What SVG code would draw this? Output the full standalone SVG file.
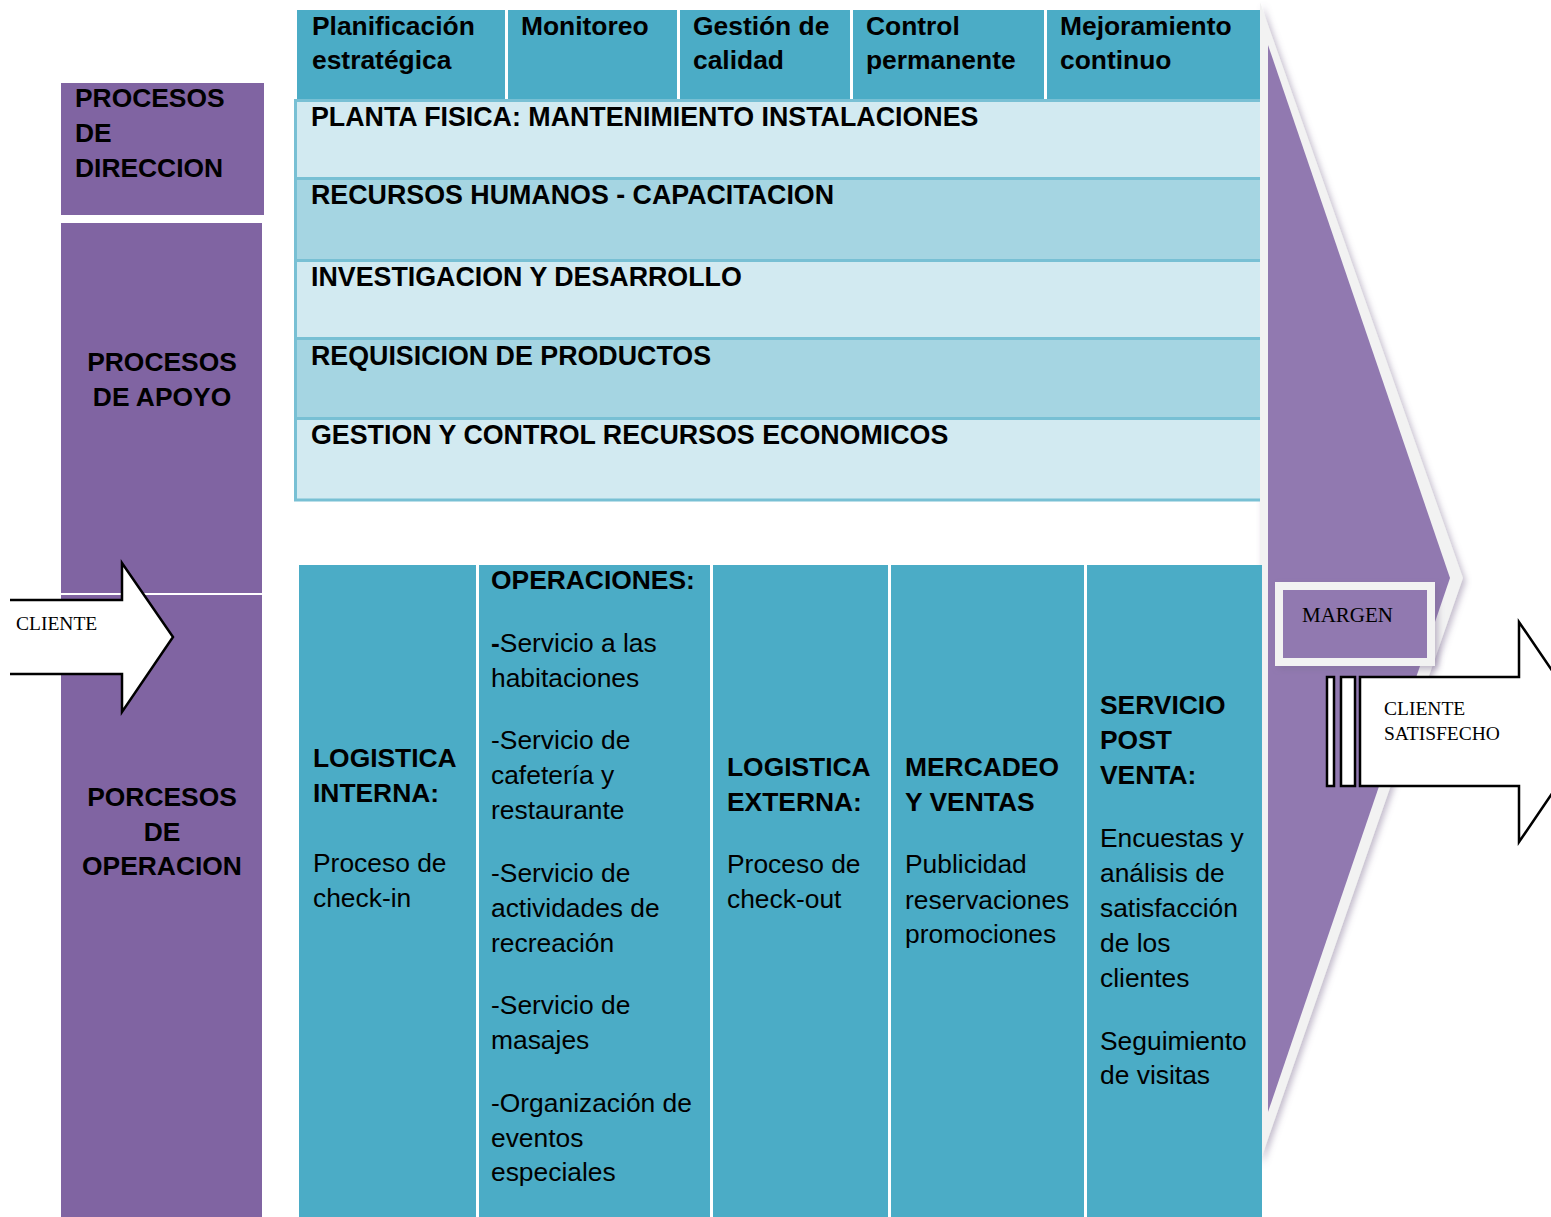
<svg xmlns="http://www.w3.org/2000/svg" width="1551" height="1217" viewBox="0 0 1551 1217">
<defs>
<filter id="sh" x="-10%" y="-5%" width="130%" height="115%">
<feDropShadow dx="3" dy="3" stdDeviation="3" flood-color="#7a6a8f" flood-opacity="0.45"/>
</filter>
</defs>
<style>
text{font-family:"Liberation Sans",Arial,sans-serif;font-size:26.4px;fill:#000}
.b{font-weight:bold}
.rw{font-size:26.8px}
.sr{font-family:"Liberation Serif","Times New Roman",serif;font-size:19.5px}
.dp{fill:#8064a2}
.lp{fill:#9179b0}
.tl{fill:#4bacc6}
.l1{fill:#d2eaf1}
.l2{fill:#a5d5e2}
.ln{stroke:#78c0d4;stroke-width:3;fill:none}
.arr{fill:#fff;stroke:#000;stroke-width:2.5}
</style>
<rect width="1551" height="1217" fill="#fff"/>

<g id="margen-triangle">
<polygon points="1260,2 1463,578 1260,1162" fill="#f2f2f2" filter="url(#sh)"/>
<polygon class="lp" points="1268,45 1450,578 1268,1112"/>
</g>

<g id="procesos-direccion">
<rect class="dp" x="61" y="83" width="203" height="132"/>
<text class="b" x="75" y="107">PROCESOS</text>
<text class="b" x="75" y="142">DE</text>
<text class="b" x="75" y="177">DIRECCION</text>
</g>

<g id="procesos-apoyo">
<rect class="dp" x="61" y="223" width="201" height="370"/>
<text class="b" x="162" y="371" text-anchor="middle">PROCESOS</text>
<text class="b" x="162" y="406" text-anchor="middle">DE APOYO</text>
</g>

<g id="procesos-operacion">
<rect class="dp" x="61" y="595" width="201" height="622"/>
<text class="b" x="162" y="806" text-anchor="middle">PORCESOS</text>
<text class="b" x="162" y="841" text-anchor="middle">DE</text>
<text class="b" x="162" y="875" text-anchor="middle">OPERACION</text>
</g>

<g id="header">
<rect class="tl" x="297" y="10" width="208" height="89"/>
<rect class="tl" x="508" y="10" width="169" height="89"/>
<rect class="tl" x="680" y="10" width="170" height="89"/>
<rect class="tl" x="853" y="10" width="191" height="89"/>
<rect class="tl" x="1047" y="10" width="213" height="89"/>
<text class="b" x="312" y="35">Planificación</text>
<text class="b" x="312" y="69">estratégica</text>
<text class="b" x="521" y="35">Monitoreo</text>
<text class="b" x="693" y="35">Gestión de</text>
<text class="b" x="693" y="69">calidad</text>
<text class="b" x="866" y="35">Control</text>
<text class="b" x="866" y="69">permanente</text>
<text class="b" x="1060" y="35">Mejoramiento</text>
<text class="b" x="1060" y="69">continuo</text>
</g>

<g id="apoyo-rows">
<rect class="l1" x="295" y="100" width="965" height="79"/>
<rect class="l2" x="295" y="179" width="965" height="82"/>
<rect class="l1" x="295" y="261" width="965" height="78"/>
<rect class="l2" x="295" y="339" width="965" height="80"/>
<rect class="l1" x="295" y="419" width="965" height="82"/>
<path class="ln" d="M295.5,100.5 H1260 M295.5,178.5 H1260 M295.5,260.5 H1260 M295.5,338.5 H1260 M295.5,418.5 H1260 M295.5,500 H1260 M295.5,99 V501.5"/>
<text class="b rw" x="311" y="126">PLANTA FISICA: MANTENIMIENTO INSTALACIONES</text>
<text class="b rw" x="311" y="204">RECURSOS HUMANOS - CAPACITACION</text>
<text class="b rw" x="311" y="286">INVESTIGACION Y DESARROLLO</text>
<text class="b rw" x="311" y="365">REQUISICION DE PRODUCTOS</text>
<text class="b rw" x="311" y="444">GESTION Y CONTROL RECURSOS ECONOMICOS</text>
</g>

<g id="logistica-interna">
<rect class="tl" x="299" y="565" width="177" height="652"/>
<text class="b" x="313" y="767">LOGISTICA</text>
<text class="b" x="313" y="802">INTERNA:</text>
<text x="313" y="872">Proceso de</text>
<text x="313" y="907">check-in</text>
</g>

<g id="operaciones">
<rect class="tl" x="479" y="565" width="231" height="652"/>
<text class="b" x="491" y="589">OPERACIONES:</text>
<text x="491" y="652"><tspan class="b">-</tspan>Servicio a las</text>
<text x="491" y="687">habitaciones</text>
<text x="491" y="749">-Servicio de</text>
<text x="491" y="784">cafetería y</text>
<text x="491" y="819">restaurante</text>
<text x="491" y="882">-Servicio de</text>
<text x="491" y="917">actividades de</text>
<text x="491" y="952">recreación</text>
<text x="491" y="1014">-Servicio de</text>
<text x="491" y="1049">masajes</text>
<text x="491" y="1112">-Organización de</text>
<text x="491" y="1147">eventos</text>
<text x="491" y="1181">especiales</text>
</g>

<g id="logistica-externa">
<rect class="tl" x="713" y="565" width="175" height="652"/>
<text class="b" x="727" y="776">LOGISTICA</text>
<text class="b" x="727" y="811">EXTERNA:</text>
<text x="727" y="873">Proceso de</text>
<text x="727" y="908">check-out</text>
</g>

<g id="mercadeo-ventas">
<rect class="tl" x="891" y="565" width="193" height="652"/>
<text class="b" x="905" y="776">MERCADEO</text>
<text class="b" x="905" y="811">Y VENTAS</text>
<text x="905" y="873">Publicidad</text>
<text x="905" y="909">reservaciones</text>
<text x="905" y="943">promociones</text>
</g>

<g id="servicio-post-venta">
<rect class="tl" x="1087" y="565" width="175" height="652"/>
<text class="b" x="1100" y="714">SERVICIO</text>
<text class="b" x="1100" y="749">POST</text>
<text class="b" x="1100" y="784">VENTA:</text>
<text x="1100" y="847">Encuestas y</text>
<text x="1100" y="882">análisis de</text>
<text x="1100" y="917">satisfacción</text>
<text x="1100" y="952">de los</text>
<text x="1100" y="987">clientes</text>
<text x="1100" y="1050">Seguimiento</text>
<text x="1100" y="1084">de visitas</text>
</g>

<g id="margen">
<rect x="1275" y="582" width="160" height="84" fill="#f2f2f2" filter="url(#sh)"/>
<rect class="lp" x="1283" y="590" width="144" height="68"/>
<text class="sr" x="1302" y="622" style="font-size:21px">MARGEN</text>
</g>

<g id="connectors">
<line x1="61" y1="594" x2="262" y2="594" stroke="#fff" stroke-width="2"/>
<g id="cliente-arrow">
<path class="arr" d="M10,600 H122 V563 L173,637 L122,712 V674 H10"/>
<text class="sr" x="16" y="630">CLIENTE</text>
</g>
<g id="cliente-satisfecho-arrow">
<rect class="arr" x="1327" y="677" width="7" height="109" stroke-width="2"/>
<rect class="arr" x="1341" y="677" width="14" height="109" stroke-width="2"/>
<path class="arr" d="M1360,677 H1519 V622 L1594,732 L1519,842 V786 H1360 Z" stroke-width="2"/>
<text class="sr" x="1384" y="715">CLIENTE</text>
<text class="sr" x="1384" y="740">SATISFECHO</text>
</g>
</g>
</svg>
